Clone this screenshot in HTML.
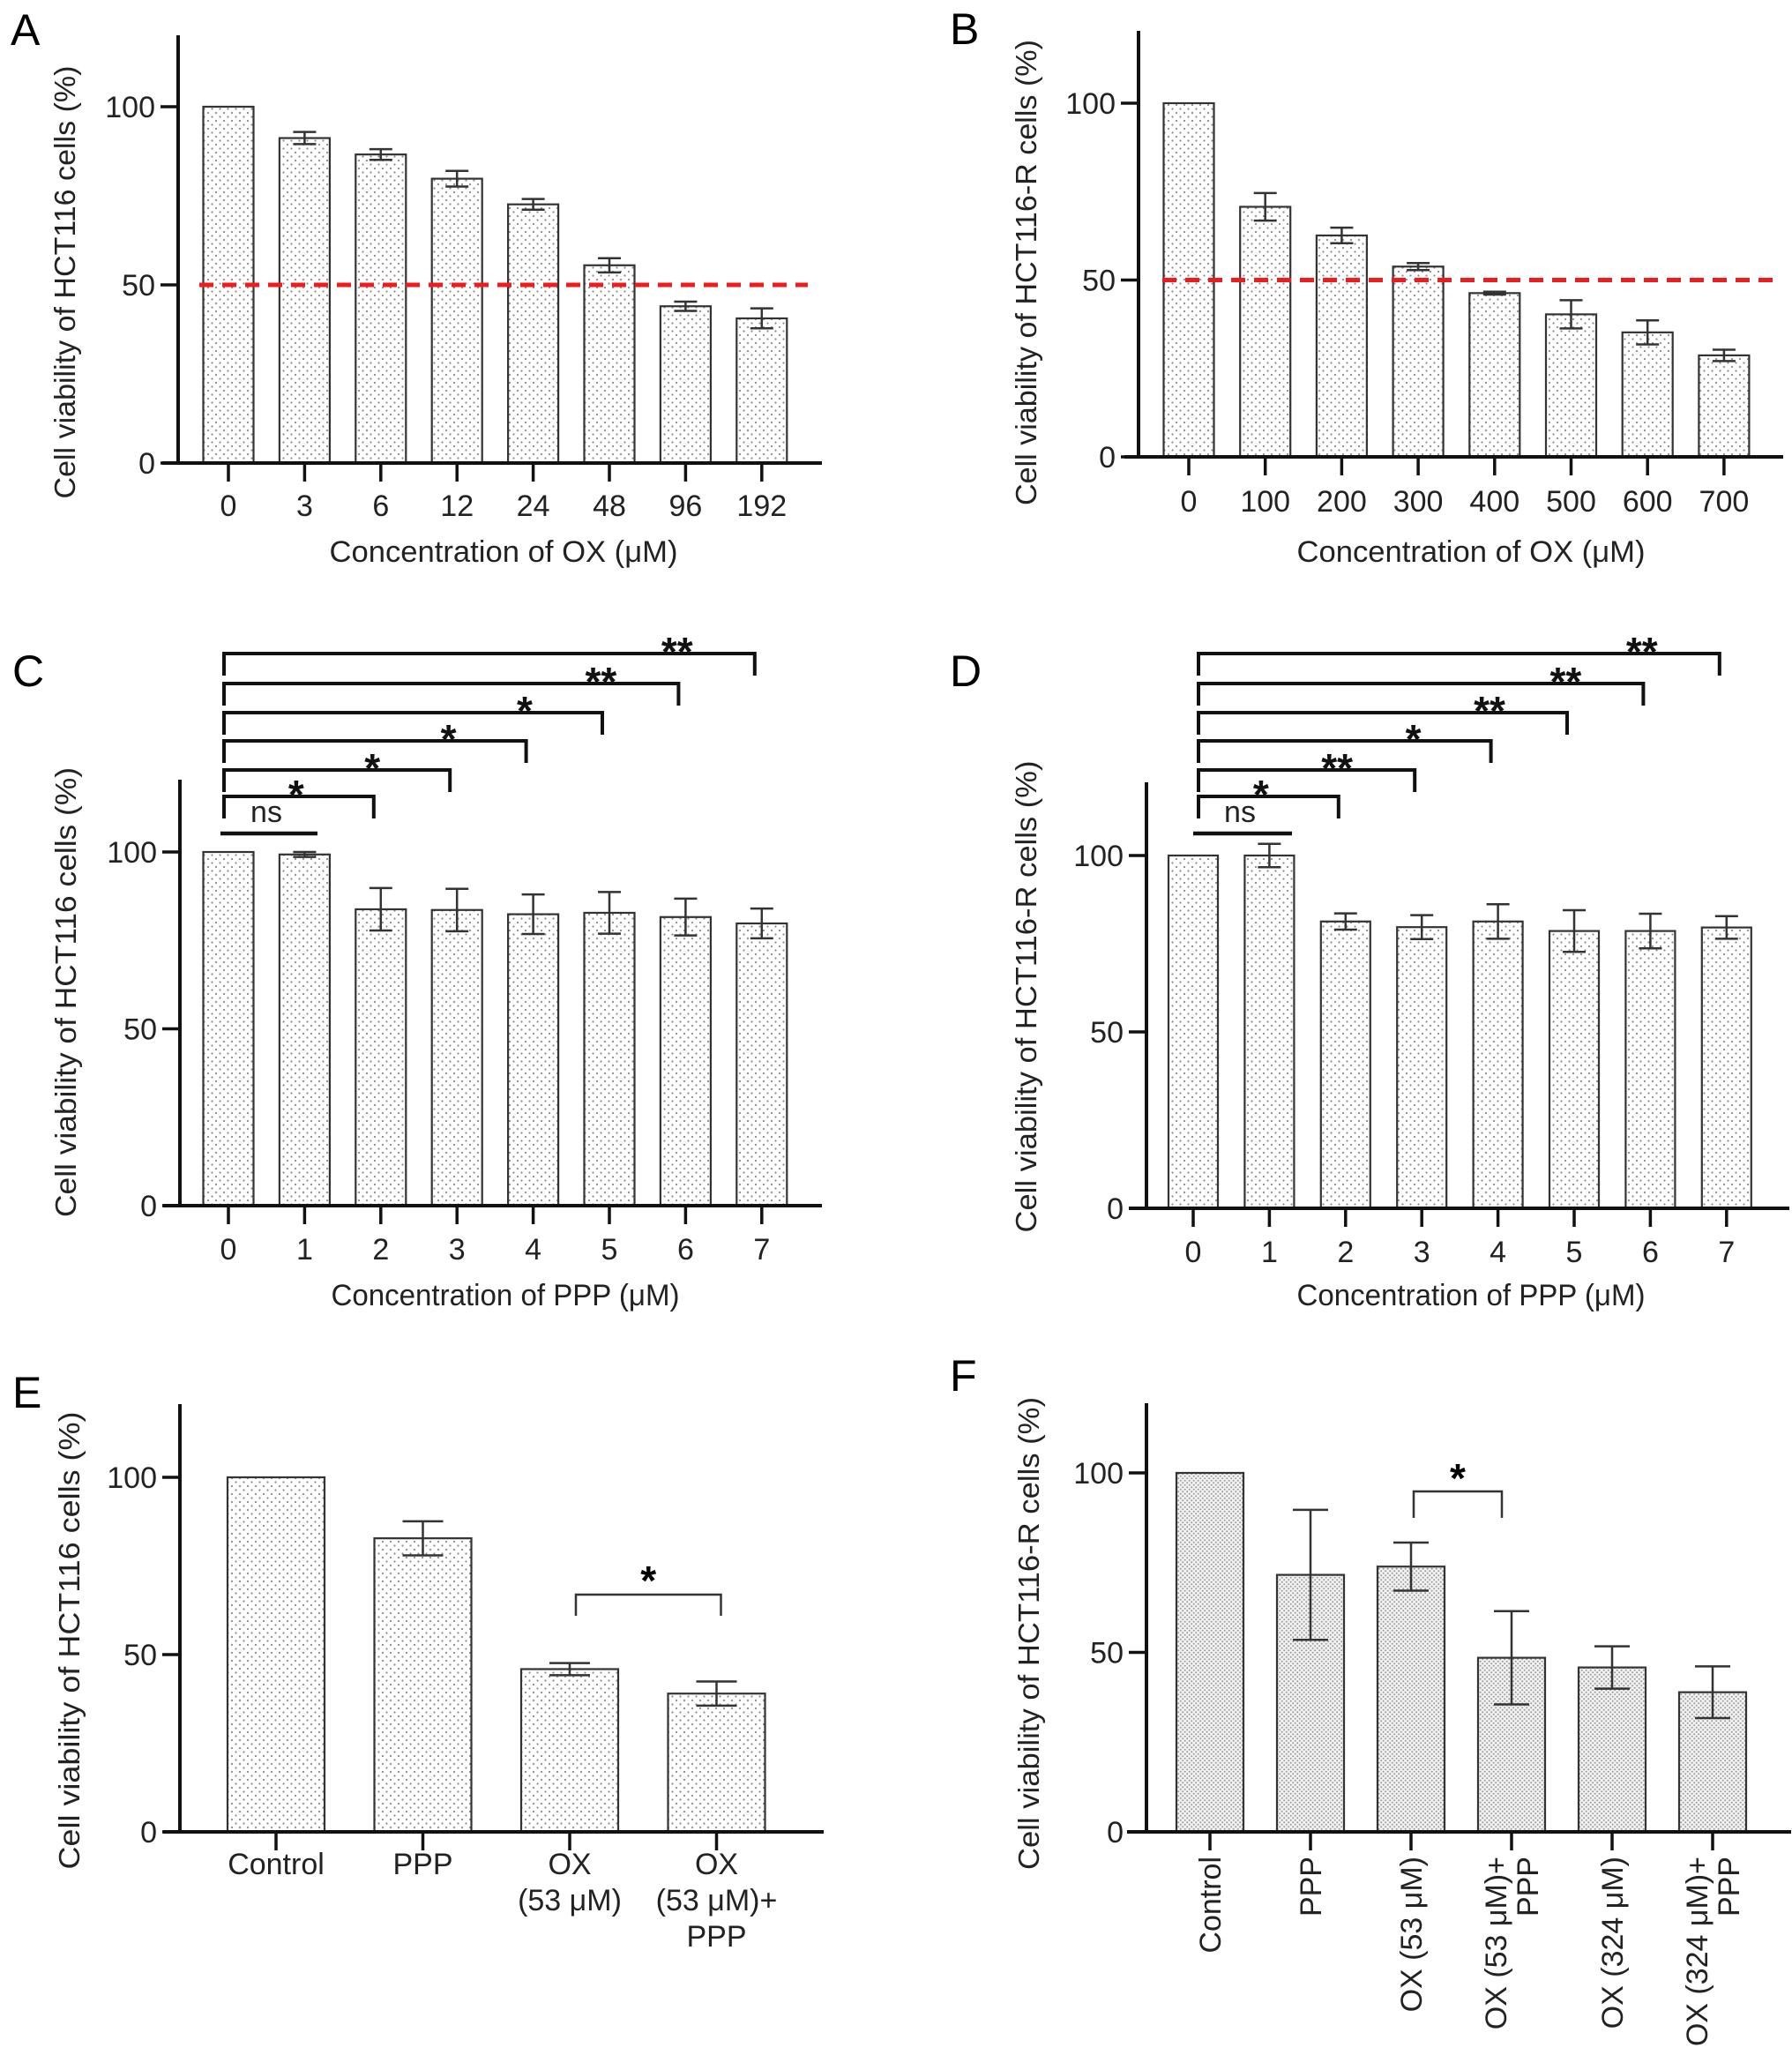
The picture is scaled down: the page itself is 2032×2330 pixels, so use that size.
<!DOCTYPE html>
<html><head><meta charset="utf-8"><title>Cell viability panels</title>
<style>
html,body{margin:0;padding:0;background:#fff;}
svg{display:block;font-family:"Liberation Sans",Arial,sans-serif;}
</style></head>
<body>
<svg id="fig" width="2032" height="2330" viewBox="0 0 2032 2330" xmlns="http://www.w3.org/2000/svg">
<defs>
<pattern id="dots" width="9" height="9" patternUnits="userSpaceOnUse">
<rect width="9" height="9" fill="#fff"/>
<circle cx="2" cy="2" r="1.1" fill="#8a8a8a"/><circle cx="6.5" cy="6.5" r="1.1" fill="#8a8a8a"/>
</pattern>
<pattern id="dense" width="5" height="5" patternUnits="userSpaceOnUse">
<rect width="5" height="5" fill="#f2f2f2"/>
<circle cx="1.2" cy="1.2" r="1" fill="#9a9a9a"/><circle cx="3.7" cy="3.7" r="1" fill="#9a9a9a"/>
</pattern>
</defs>
</svg>
<script>
// ---- Panel A data ----
const aCats = ["0","3","6","12","24","48","96","192"];
const aVals = [100,91.2,86.6,79.8,72.6,55.5,44,40.6];
const aErrs = [0,1.7,1.5,2.2,1.5,2,1.3,2.8];
// ---- Panel B data ----
const bCats = ["0","100","200","300","400","500","600","700"];
const bVals = [100,70.7,62.6,53.8,46.3,40.3,35.2,28.7];
const bErrs = [0,3.9,2.2,1,0.4,4,3.4,1.6];
// ---- Panel C data ----
const cCats = ["0","1","2","3","4","5","6","7"];
const cVals = [100,99.3,83.8,83.6,82.4,82.8,81.6,79.8];
const cErrs = [0,0.7,6,6,5.6,5.9,5.2,4.2];
const cSig = ["*","*","*","*","**","**"];
// ---- Panel D data ----
const dCats = ["0","1","2","3","4","5","6","7"];
const dVals = [100,100,81.3,79.7,81.3,78.6,78.6,79.6];
const dErrs = [0,3.3,2.3,3.4,4.9,5.9,4.9,3.2];
const dSig = ["*","**","*","**","**","**"];
// ---- Panel E data ----
const eCats = [["Control"],["PPP"],["OX","(53 μM)"],["OX","(53 μM)+","PPP"]];
const eVals = [100,82.8,45.9,39];
const eErrs = [0,4.8,1.7,3.4];
// ---- Panel F data ----
const fCats = [["Control"],["PPP"],["OX (53 μM)"],["OX (53 μM)+","PPP"],["OX (324 μM)"],["OX (324 μM)+","PPP"]];
const fVals = [100,71.6,73.9,48.5,45.8,38.9];
const fErrs = [0,18.1,6.7,13,5.9,7.2];
const yTicks = [0,50,100];

const NS = "http://www.w3.org/2000/svg";
const svg = document.getElementById("fig");
function mk(tag, attrs, parent, txt){
  const e = document.createElementNS(NS, tag);
  for (const k in attrs) e.setAttribute(k, attrs[k]);
  if (txt !== undefined) e.textContent = txt;
  (parent||svg).appendChild(e);
  return e;
}

function panel(p){
  const g = mk("g", {});
  
  
  const ys = v => p.y0 - v/100*(p.y0 - p.y100);
  const xs = i => p.x0c + i*p.step;
  const L = mk("text", {x:p.lx, y:p.ly, "font-size":50}, g, p.id.toUpperCase());
  
  
  p.vals.forEach((v,i)=>{
    const r = mk("rect", {x:xs(i)-p.bw/2, y:ys(v), width:p.bw, height:p.y0-ys(v), fill:p.fill, stroke:"#333", "stroke-width":2.2}, g);
    
    
    const e = p.errs[i];
    if (e > 0){
      const eb = mk("path", {d:`M${xs(i)},${ys(v+e)}V${ys(v-e)}M${xs(i)-p.cap/2},${ys(v+e)}h${p.cap}M${xs(i)-p.cap/2},${ys(v-e)}h${p.cap}`, stroke:"#333", "stroke-width":2.5, fill:"none"}, g);
      
      
    }
  });
  const ya = mk("path", {d:`M${p.ax},${p.yTop}V${p.y0+2}`, stroke:"#111", "stroke-width":4, fill:"none"}, g);
  
  
  const xa = mk("path", {d:`M${p.xl},${p.y0}H${p.xr}`, stroke:"#111", "stroke-width":4, fill:"none"}, g);
  
  
  yTicks.forEach(t=>{
    mk("path", {d:`M${p.ax-20},${ys(t)}H${p.ax}`, stroke:"#111", "stroke-width":3.5}, g);
    const tl = mk("text", {x:p.ax-26, y:ys(t)+12, "font-size":34, "text-anchor":"end", fill:"#222"}, g, String(t));
    
    
  });
  p.cats.forEach((c,i)=>{
    mk("path", {d:`M${xs(i)},${p.y0}V${p.y0+21}`, stroke:"#111", "stroke-width":3.5}, g);
    if (p.rot){
      const lines = c;
      lines.forEach((ln,j)=>{
        const bx = xs(i) + 12 + (lines.length===2 ? (j===0?-18:18) : 0);
        const t = mk("text", {x:0, y:0, "font-size":34, "text-anchor":"end", fill:"#222", transform:`translate(${bx},${p.y0+28}) rotate(-90)`}, g, ln);
        
        
      });
    } else if (Array.isArray(c)){
      c.forEach((ln,j)=>{
        const t = mk("text", {x:xs(i), y:p.tb + j*p.lh, "font-size":34, "text-anchor":"middle", fill:"#222"}, g, ln);
        
        
      });
    } else {
      const t = mk("text", {x:xs(i), y:p.tb, "font-size":34, "text-anchor":"middle", fill:"#222"}, g, c);
      
      
    }
  });
  const yl = mk("text", {x:0, y:0, "font-size":33, "text-anchor":"middle", fill:"#222", textLength:p.ylLen, lengthAdjust:"spacingAndGlyphs", transform:`translate(${p.ylx},${p.yly}) rotate(-90)`}, g, p.ylabel);
  
  
  if (p.xlabel){
    const xl = mk("text", {x:p.xlx, y:p.xly, "font-size":34, "text-anchor":"middle", fill:"#222", textLength:395, lengthAdjust:"spacingAndGlyphs"}, g, p.xlabel);
    
    
  }
  if (p.ref){
    const rl = mk("path", {d:`M${p.ref[0]},${ys(50)}H${p.ref[1]}`, stroke:"#ee1c1c", "stroke-width":5, "stroke-dasharray":"16 10", fill:"none"}, g);
    
    
  }
  return {g, xs, ys};
}

const ptA = {id:"a", lx:12, ly:51, x0c:259, step:86.4, bw:57, cap:26, fill:"url(#dots)",
  ax:202, yTop:40, y100:121, y0:525, xl:184, xr:932, tb:585,
  cats:aCats, vals:aVals, errs:aErrs, ylabel:"Cell viability of HCT116 cells (%)", ylLen:491, ylx:85, yly:320,
  xlabel:"Concentration of OX (μM)", xlx:571, xly:637, ref:[226,916]};
panel(ptA);
const ptB = {id:"b", lx:1077, ly:50, x0c:1348, step:86.7, bw:57, cap:26, fill:"url(#dots)",
  ax:1291, yTop:35, y100:117, y0:518, xl:1275, xr:2022, tb:580,
  cats:bCats, vals:bVals, errs:bErrs, ylabel:"Cell viability of HCT116-R cells (%)", ylLen:528, ylx:1175, yly:309,
  xlabel:"Concentration of OX (μM)", xlx:1668, xly:637, ref:[1318,2012]};
panel(ptB);

function sig(res, p, sigs, lefts, ys, nsX){
  const g = res.g;
  const nl = mk("path", {d:`M${nsX[0]},${p.nsY}H${nsX[1]}`, stroke:"#111", "stroke-width":4.5}, g);
  
  
  const nt = mk("text", {x:(nsX[0]+nsX[1])/2 - 3, y:p.nsY-13, "font-size":34, "text-anchor":"middle", fill:"#222"}, g, "ns");
  
  
  sigs.forEach((s,k)=>{
    const xr = res.xs(k+2) - 8, y = ys[k];
    const b = mk("path", {d:`M${lefts},${y+25}V${y}H${xr}V${y+25}`, stroke:"#111", "stroke-width":4, fill:"none"}, g);
    
    
    const st = mk("text", {x:xr - 88, y:y+14, "font-size":46, "font-weight":"bold", "text-anchor":"middle", fill:"#111"}, g, s);
    
    
  });
}
const brY = [903,873,840,808,775,741];
const ptC = {id:"c", lx:14, ly:778, x0c:259, step:86.4, bw:57, cap:26, fill:"url(#dots)",
  ax:204, yTop:884, y100:966, y0:1367, xl:185, xr:932, tb:1428, nsY:945,
  cats:cCats, vals:cVals, errs:cErrs, ylabel:"Cell viability of HCT116 cells (%)", ylLen:510, ylx:86, yly:1125,
  xlabel:"Concentration of PPP (μM)", xlx:573, xly:1480};
sig(panel(ptC), ptC, cSig, 254, brY, [250,360]);
const ptD = {id:"d", lx:1077, ly:778, x0c:1353, step:86.4, bw:56, cap:26, fill:"url(#dots)",
  ax:1300, yTop:887, y100:970, y0:1370, xl:1280, xr:2029, tb:1431, nsY:945,
  cats:dCats, vals:dVals, errs:dErrs, ylabel:"Cell viability of HCT116-R cells (%)", ylLen:535, ylx:1175, yly:1130,
  xlabel:"Concentration of PPP (μM)", xlx:1668, xly:1480};
sig(panel(ptD), ptD, dSig, 1359, brY, [1353,1465]);

const ptE = {id:"e", lx:14, ly:1596, x0c:313, step:166.5, bw:110, cap:46, fill:"url(#dots)",
  ax:204, yTop:1592, y100:1675, y0:2077, xl:185, xr:934, tb:2125, lh:41,
  cats:eCats, vals:eVals, errs:eErrs, ylabel:"Cell viability of HCT116 cells (%)", ylLen:519, ylx:90, yly:1860};
const rE = panel(ptE);
(function(){
  const x1 = rE.xs(2)+7, x2 = rE.xs(3)+5, y = 1808;
  const b = mk("path", {d:`M${x1},${y+24}V${y}H${x2}V${y+24}`, stroke:"#333", "stroke-width":2.5, fill:"none"}, rE.g);
  
  
  const s = mk("text", {x:(x1+x2)/2, y:1808, "font-size":46, "font-weight":"bold", "text-anchor":"middle"}, rE.g, "*");
  
  
})();

const ptF = {id:"f", lx:1077, ly:1577, x0c:1372, step:114, bw:76, cap:40, fill:"url(#dense)", rot:true,
  ax:1300, yTop:1591, y100:1670, y0:2077, xl:1278, xr:2031,
  cats:fCats, vals:fVals, errs:fErrs, ylabel:"Cell viability of HCT116-R cells (%)", ylLen:536, ylx:1178, yly:1852};
const rF = panel(ptF);
(function(){
  const x1 = rF.xs(2)+3, x2 = rF.xs(3)-11, y = 1691;
  const b = mk("path", {d:`M${x1},${y+30}V${y}H${x2}V${y+30}`, stroke:"#333", "stroke-width":2.5, fill:"none"}, rF.g);
  
  
  const s = mk("text", {x:(x1+x2)/2, y:1692, "font-size":46, "font-weight":"bold", "text-anchor":"middle"}, rF.g, "*");
  
  
})();
</script>
</body></html>
